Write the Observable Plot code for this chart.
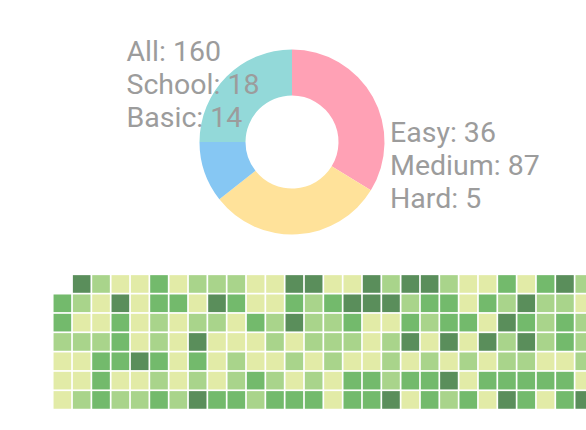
<!DOCTYPE html>
<html><head><meta charset="utf-8">
<script src="https://cdn.jsdelivr.net/npm/d3@7"></script>
<script src="https://cdn.jsdelivr.net/npm/@observablehq/plot@0.6"></script>
<style>html,body{margin:0;padding:0;background:#fff;overflow:hidden;width:586px;height:430px}</style>
</head><body><div id="chart"></div>
<script>
// Donut slices (clockwise from 12 o'clock)
const sliceNames = ["pink", "yellow", "blue", "teal"];
const sliceValues = [54, 49, 17, 40];
const sliceColors = ["#FFA1B5", "#FFE29A", "#86C7F3", "#93D9D9"];

// Text labels
const leftLabels = ["All: 160", "School: 18", "Basic: 14"];
const rightLabels = ["Easy: 36", "Medium: 87", "Hard: 5"];

// Heatmap levels (0 = lightest .. 3 = darkest), null = empty
const levelColors = ["#E2EBA7", "#A9D48B", "#73BA6C", "#5A8E5B"];
const row0 = [null,3,1,0,0,2,0,1,1,1,0,0,3,3,0,0,3,1,3,3,1,0,0,2,0,2,3,1];
const row1 = [2,1,0,3,0,2,2,0,3,2,0,0,2,1,2,3,3,3,1,2,2,0,2,1,3,1,1,0];
const row2 = [2,0,0,2,0,1,0,1,1,0,2,1,3,1,1,2,0,0,2,1,2,2,0,3,2,1,2,1];
const row3 = [1,1,1,2,0,1,0,3,0,0,0,1,0,1,1,1,0,1,3,0,3,0,3,1,3,1,2,1];
const row4 = [0,0,2,2,3,2,0,2,0,1,0,0,1,0,1,0,0,1,0,1,0,1,0,1,1,0,0,1];
const row5 = [0,0,2,0,0,1,0,1,0,1,2,1,0,1,0,2,2,1,2,2,3,0,2,2,2,2,2,0];
const row6 = [0,1,2,1,1,2,1,3,2,2,1,2,2,2,0,2,2,3,0,2,1,2,0,3,2,0,2,3];
const rows = [row0, row1, row2, row3, row4, row5, row6];

const cells = [];
rows.forEach((r, ri) => r.forEach((v, ci) => { if (v !== null) cells.push({row: ri, col: ci, level: v}); }));

const nCols = 28, pitch = 19.33, x0 = 52.7, y0 = 274.3;
const cx = 292, cy = 142, rOuter = 92.5, rInner = 46.5;

function donut() {
  const pie = d3.pie().sort(null).value(d => d.v)(sliceValues.map((v, i) => ({v, i})));
  const arc = d3.arc().innerRadius(rInner).outerRadius(rOuter);
  const g = d3.create("svg:g").attr("transform", `translate(${cx},${cy})`);
  g.selectAll("path").data(pie).join("path")
    .attr("d", arc)
    .attr("fill", d => sliceColors[d.data.i]);
  return g.node();
}

const fs = 28.5;
const chart = Plot.plot({
  width: 586, height: 430,
  margin: 0,
  style: {background: "white", overflow: "hidden"},
  x: {type: "band", domain: d3.range(nCols), range: [x0, x0 + nCols * pitch], padding: 0, round: false, axis: null},
  y: {type: "band", domain: d3.range(7), range: [y0, y0 + 7 * pitch], padding: 0, round: false, axis: null},
  color: {type: "ordinal", domain: [0, 1, 2, 3], range: levelColors},
  marks: [
    Plot.cell(cells, {x: "col", y: "row", fill: "level", inset: 0.85}),
    donut,
    Plot.text([leftLabels.join("\n")], {text: d => d, frameAnchor: "top-left", dx: 126, dy: 37, lineAnchor: "top", lineHeight: 33 / fs, fontSize: fs, fontFamily: "Roboto", fill: "#9c9c9c", textAnchor: "start"}),
    Plot.text([rightLabels.join("\n")], {text: d => d, frameAnchor: "top-left", dx: 389.5, dy: 118, lineAnchor: "top", lineHeight: 33 / fs, fontSize: fs, fontFamily: "Roboto", fill: "#9c9c9c", textAnchor: "start"})
  ]
});
document.getElementById("chart").appendChild(chart);
</script>
</body></html>
